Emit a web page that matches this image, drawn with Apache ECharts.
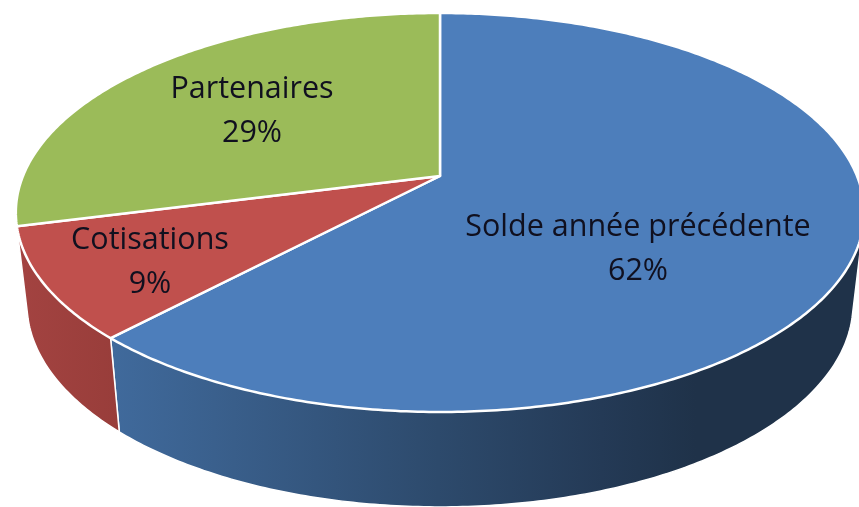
<!DOCTYPE html>
<html>
<head>
<meta charset="utf-8">
<script src="https://cdn.jsdelivr.net/npm/echarts@6/dist/echarts.min.js"></script>
<style>html,body{margin:0;padding:0;background:#fff}#c{width:859px;height:507px;filter:blur(0.55px)}</style>
</head>
<body>
<div id="c"></div>
<script>
const categories = ['Solde année précédente', 'Cotisations', 'Partenaires'];
const percents = [62, 9, 29];

const topColors = ['#4d7ebb', '#c0504d', '#9bbb59'];
const sideStops = [
  [[0, '#426ea2'], [0.13, '#406a9c'], [0.51, '#2d4a6c'], [0.7, '#243a56'], [0.81, '#1f3249'], [1, '#1f3249']],
  [[0, '#a54442'], [0.14, '#983d3a'], [1, '#983d3a']],
  [[0, '#7a9446'], [1, '#7a9446']]
];
const labelCenters = [[638, 249], [150, 262], [252, 111]];

// Perspective model of the pie's discs
const persp = 0.183;
const topDisc = { cx: 440, cy: 176, a: 417, b: 192.8 };
const baseDisc = { cx: 440, cy: 267, a: 406, b: 196 };
const frontEnd = 275 / 180 * Math.PI;   // left silhouette of the wall

const total = percents.reduce((s, v) => s + v, 0);
function rimPoint(disc, theta) {
  const u = Math.sin(theta), v = -Math.cos(theta), w = 1 - persp * v;
  return [disc.cx + disc.a * u / w, disc.cy + disc.b * v / w];
}
function sliceAngles(i) {
  let before = 0;
  for (let k = 0; k < i; k++) before += percents[k];
  return [before / total * 2 * Math.PI, (before + percents[i]) / total * 2 * Math.PI];
}
function arc(disc, t0, t1) {
  const n = Math.max(8, Math.ceil((t1 - t0) * 90));
  const pts = [];
  for (let j = 0; j <= n; j++) pts.push(rimPoint(disc, t0 + (t1 - t0) * j / n));
  return pts;
}
function hull(points) {
  const p = points.slice().sort((a, b) => a[0] - b[0] || a[1] - b[1]);
  const cross = (o, a, b) => (a[0] - o[0]) * (b[1] - o[1]) - (a[1] - o[1]) * (b[0] - o[0]);
  const half = list => {
    const h = [];
    for (const q of list) {
      while (h.length > 1 && cross(h[h.length - 2], h[h.length - 1], q) <= 0) h.pop();
      h.push(q);
    }
    h.pop();
    return h;
  };
  return half(p).concat(half(p.reverse()));
}
const sliceData = categories.map((name, i) => ({ name, value: [i, percents[i]] }));

const option = {
  animation: false,
  backgroundColor: '#ffffff',
  series: [
    {
      type: 'custom', coordinateSystem: 'none', silent: true, data: sliceData,
      renderItem(params, api) {
        const i = api.value(0);
        let [t0, t1] = sliceAngles(i);
        if ((t0 + t1) / 2 > frontEnd) return null;      // wall faces away from the viewer
        const next = i + 1 < percents.length ? sliceAngles(i + 1) : null;
        if (next && (next[0] + next[1]) / 2 > frontEnd) t1 = Math.max(t1, frontEnd);
        return {
          type: 'polygon',
          shape: { points: hull(arc(topDisc, t0, t1).concat(arc(baseDisc, t0, t1))) },
          style: {
            fill: {
              type: 'linear', x: 0, y: 0, x2: 859, y2: 0, global: true,
              colorStops: sideStops[i].map(s => ({ offset: s[0], color: s[1] }))
            },
            stroke: '#ffffff', lineWidth: 1.5, lineJoin: 'round'
          }
        };
      }
    },
    {
      type: 'custom', coordinateSystem: 'none', silent: true, data: sliceData,
      renderItem(params, api) {
        const i = api.value(0);
        const [t0, t1] = sliceAngles(i);
        return {
          type: 'polygon',
          shape: { points: [[topDisc.cx, topDisc.cy]].concat(arc(topDisc, t0, t1)) },
          style: { fill: topColors[i], stroke: '#ffffff', lineWidth: 2.5, lineJoin: 'round' }
        };
      }
    },
    {
      type: 'custom', coordinateSystem: 'none', silent: true, data: sliceData,
      renderItem(params, api) {
        const i = api.value(0);
        return {
          type: 'text',
          x: labelCenters[i][0], y: labelCenters[i][1],
          style: {
            text: categories[i] + '\n' + api.value(1) + '%',
            fill: '#10101f',
            font: '400 30.5px "Open Sans", sans-serif',
            lineHeight: 44,
            align: 'center',
            verticalAlign: 'middle'
          }
        };
      }
    }
  ]
};
const chart = echarts.init(document.getElementById('c'), null, { renderer: 'canvas' });
chart.setOption(option);
</script>
</body>
</html>
